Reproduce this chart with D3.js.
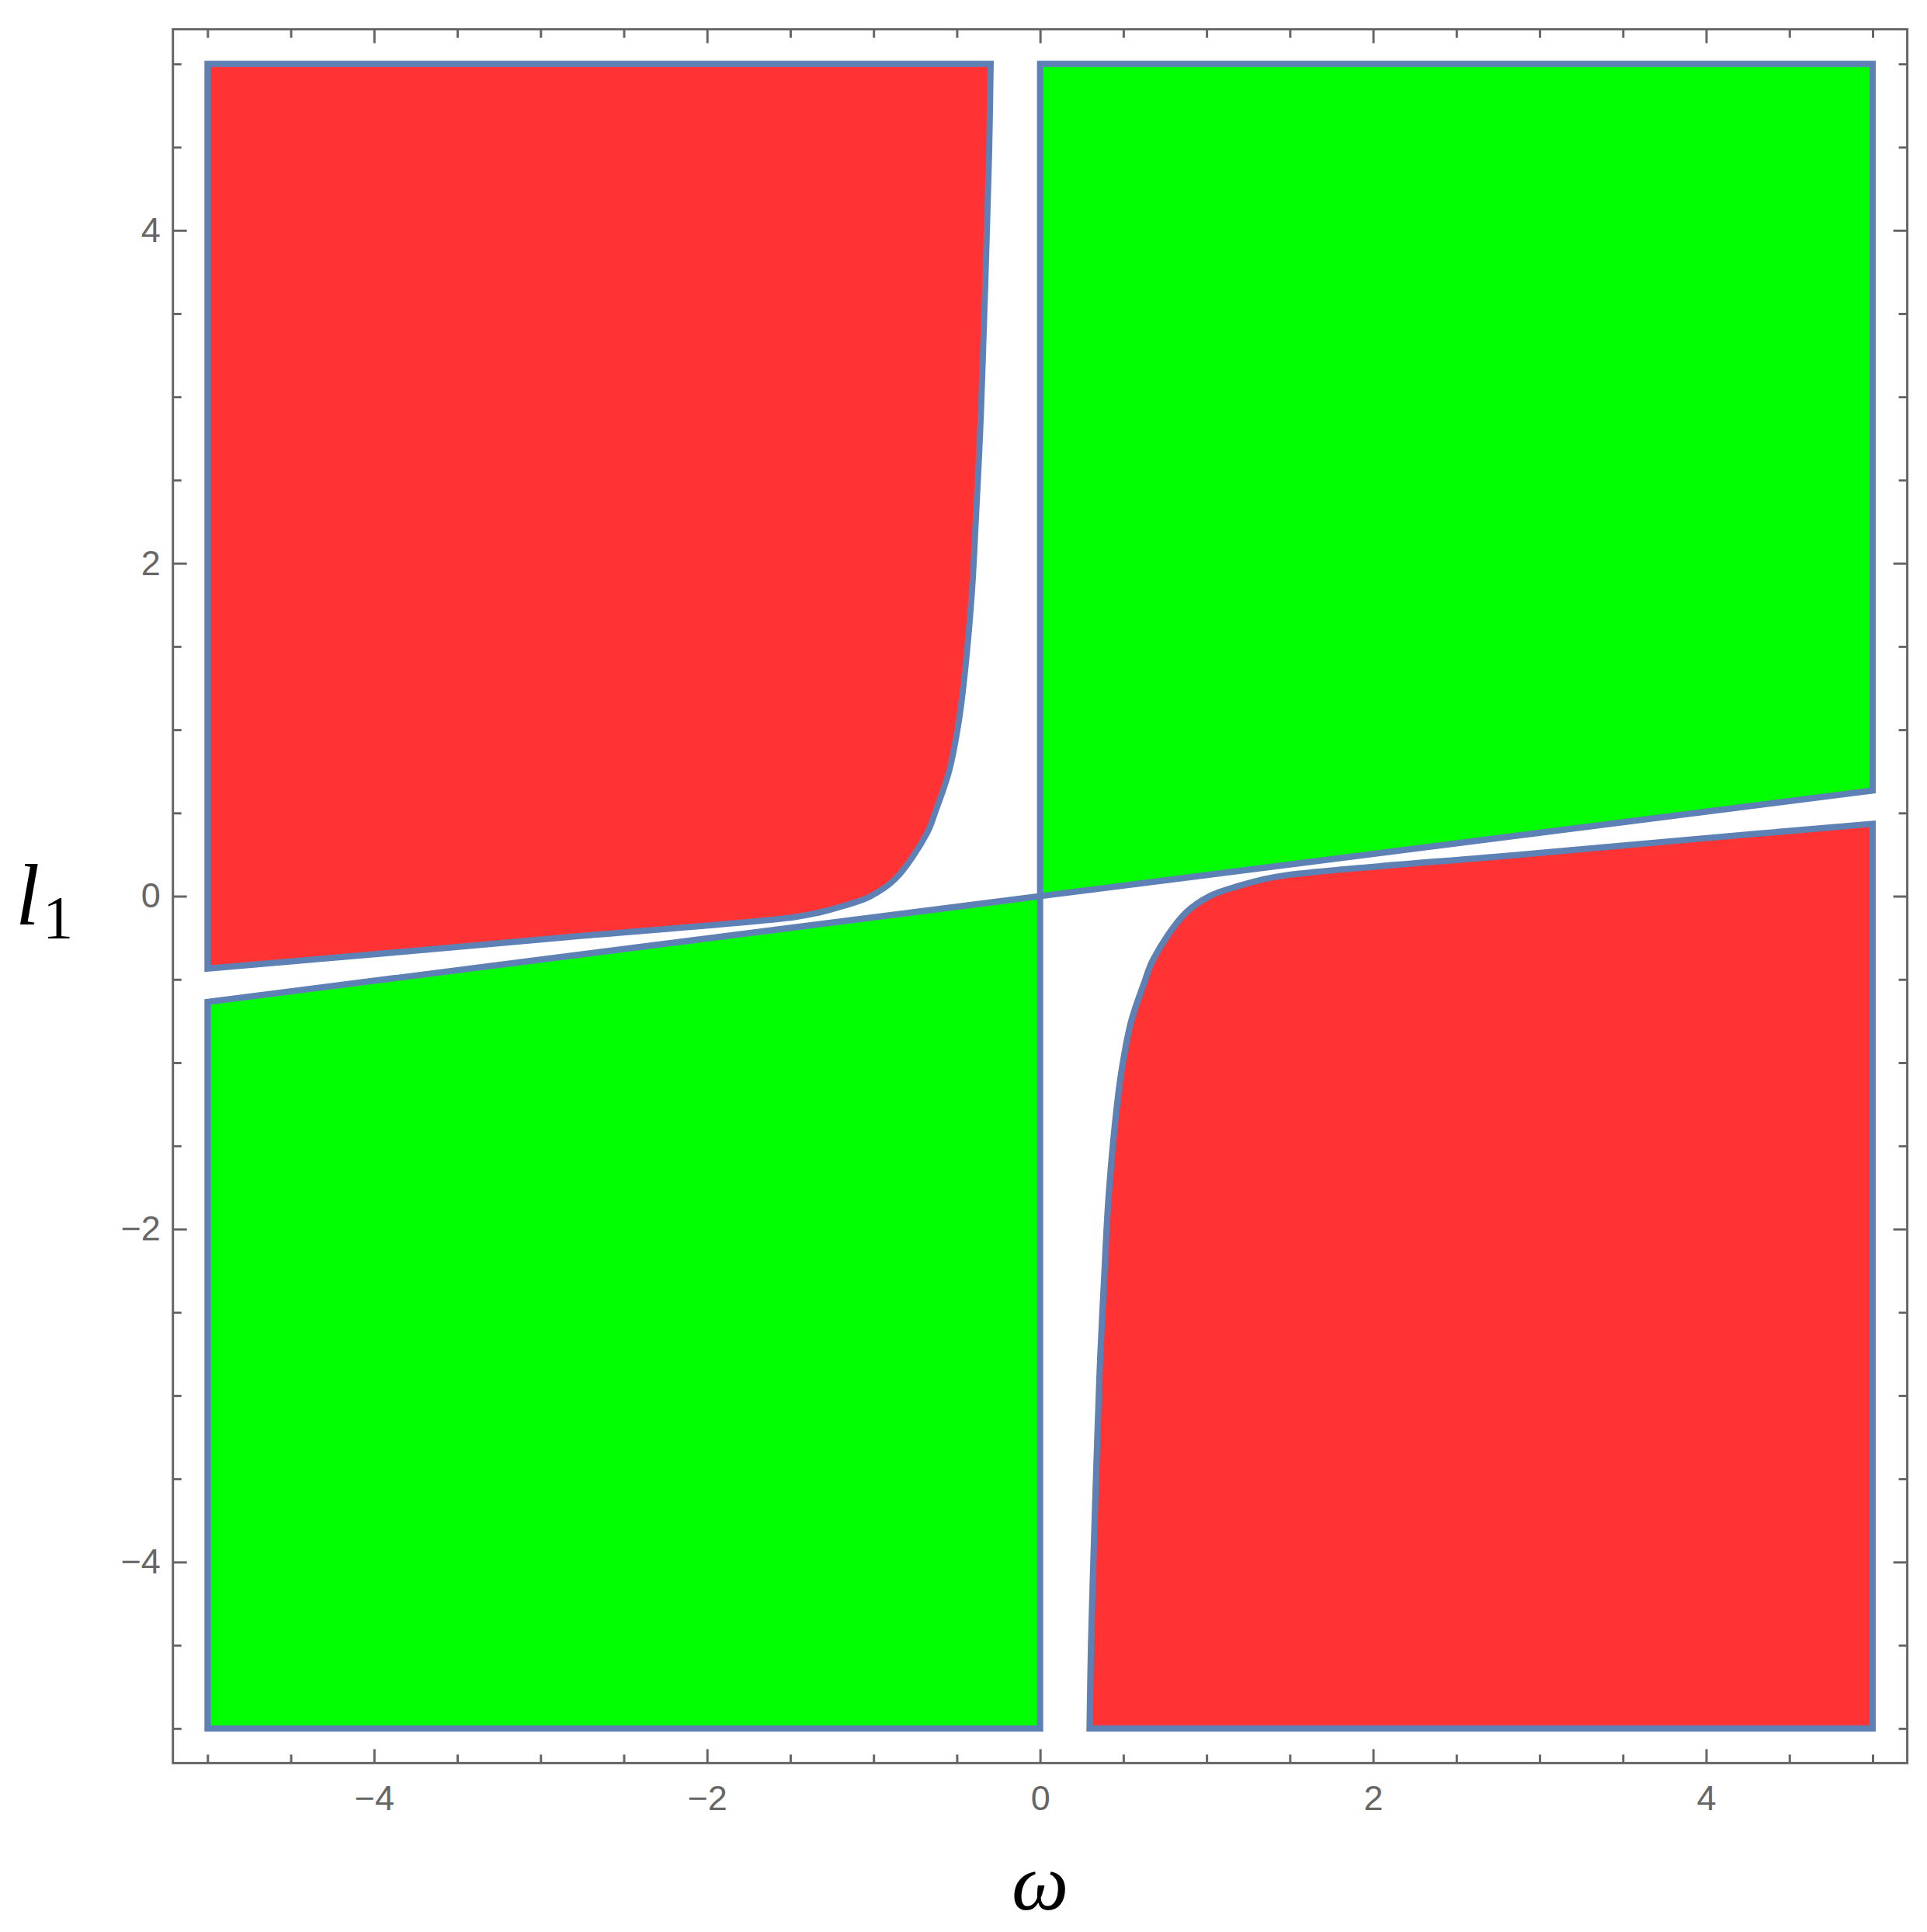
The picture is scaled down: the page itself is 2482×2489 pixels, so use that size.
<!DOCTYPE html>
<html>
<head>
<meta charset="utf-8">
<script src="https://cdn.jsdelivr.net/npm/d3@7"></script>
<style>
body { margin: 0; background: #fff; }
</style>
</head>
<body>
<div id="chart"></div>
<script>
// tick values on both axes
var omegaTicks = [-4, -2, 0, 2, 4];
var l1Ticks = [-4, -2, 0, 2, 4];
var minorTicks = [-5, -4.5, -3.5, -3, -2.5, -1.5, -1, -0.5, 0.5, 1, 1.5, 2.5, 3, 3.5, 4.5, 5];

// region boundaries as [omega, l1]; the last point of each red list is the corner that closes it
var redUpper = [
    [-0.297, 5], [-0.306, 4.48], [-0.324, 3.858], [-0.344, 3.237], [-0.361, 2.771],
    [-0.384, 2.304], [-0.409, 1.838], [-0.449, 1.372], [-0.487, 1.061], [-0.547, 0.751],
    [-0.625, 0.52], [-0.679, 0.38], [-0.869, 0.105], [-1.024, -0.003],
    [-1.18, -0.058], [-1.335, -0.1], [-1.49, -0.128], [-2.889, -0.25], [-3.82, -0.333],
    [-5, -0.435], [-5, 5]
];
var redLower = [
    [0.297, -5], [0.306, -4.48], [0.324, -3.858], [0.344, -3.237], [0.361, -2.771],
    [0.384, -2.304], [0.409, -1.838], [0.449, -1.372], [0.487, -1.061], [0.547, -0.751],
    [0.625, -0.52], [0.679, -0.38], [0.869, -0.105], [1.024, 0.003],
    [1.18, 0.058], [1.335, 0.1], [1.49, 0.128], [2.889, 0.25], [3.82, 0.333],
    [5, 0.435], [5, -5]
];
var greenUpper = [[0, 0], [0, 5], [5, 5], [5, 0.635]];
var greenLower = [[0, 0], [-5, -0.635], [-5, -5], [0, -5]];

var width = 2482,
    height = 2489;

var x = d3.scaleLinear().domain([-5, 5]).range([267.3, 2412]);
var y = d3.scaleLinear().domain([-5, 5]).range([2226.8, 82.3]);

var pad = 44.6;
var frame = {left: x(-5) - pad, right: x(5) + pad, top: y(5) - pad, bottom: y(-5) + pad};

var svg = d3.select('#chart')
    .append('svg')
    .attr('width', width)
    .attr('height', height)
    .style('background', '#fff');

var straight = d3.line()
    .x(function(d) { return x(d[0]); })
    .y(function(d) { return y(d[1]); });

var smooth = d3.line()
    .x(function(d) { return x(d[0]); })
    .y(function(d) { return y(d[1]); })
    .curve(d3.curveCatmullRom.alpha(0.5));

function curvedRegion(pts) {
    var corner = pts[pts.length - 1];
    return smooth(pts.slice(0, -1)) + 'L' + x(corner[0]) + ',' + y(corner[1]) + 'Z';
}

var regions = [
    {d: straight(greenUpper) + 'Z', fill: '#00ff00'},
    {d: straight(greenLower) + 'Z', fill: '#00ff00'},
    {d: curvedRegion(redUpper), fill: '#ff3333'},
    {d: curvedRegion(redLower), fill: '#ff3333'}
];

var plot = svg.append('g');

plot.selectAll('path.fill')
    .data(regions)
    .enter()
    .append('path')
    .attr('class', 'fill')
    .attr('d', function(d) { return d.d; })
    .attr('fill', function(d) { return d.fill; })
    .attr('stroke', 'none');

plot.selectAll('path.edge')
    .data(regions)
    .enter()
    .append('path')
    .attr('class', 'edge')
    .attr('d', function(d) { return d.d; })
    .attr('fill', 'none')
    .attr('stroke', '#5e81b5')
    .attr('stroke-width', 8)
    .attr('stroke-linejoin', 'miter');

// frame
var axisColor = '#666';
svg.append('rect')
    .attr('x', frame.left)
    .attr('y', frame.top)
    .attr('width', frame.right - frame.left)
    .attr('height', frame.bottom - frame.top)
    .attr('fill', 'none')
    .attr('stroke', axisColor)
    .attr('stroke-width', 3);

function styleAxis(g) {
    g.select('.domain').remove();
    g.selectAll('line').attr('stroke', axisColor).attr('stroke-width', 3);
    g.selectAll('text')
        .attr('fill', axisColor)
        .style('font-family', '"Liberation Sans", Arial, sans-serif')
        .style('font-size', '45px');
}

var sides = [
    {axis: d3.axisBottom, scale: x, t: 'translate(0,' + frame.bottom + ')', ticks: omegaTicks, labels: true, pad: 29},
    {axis: d3.axisTop, scale: x, t: 'translate(0,' + frame.top + ')', ticks: omegaTicks, labels: false, pad: 0},
    {axis: d3.axisLeft, scale: y, t: 'translate(' + frame.left + ',0)', ticks: l1Ticks, labels: true, pad: 16},
    {axis: d3.axisRight, scale: y, t: 'translate(' + frame.right + ',0)', ticks: l1Ticks, labels: false, pad: 0}
];

sides.forEach(function(s) {
    var major = s.axis(s.scale)
        .tickValues(s.ticks)
        .tickSize(-18)
        .tickPadding(s.pad);
    if (!s.labels) major.tickFormat('');
    svg.append('g').attr('transform', s.t).call(major).call(styleAxis);

    var minor = s.axis(s.scale)
        .tickValues(minorTicks)
        .tickSize(-11)
        .tickFormat('');
    svg.append('g').attr('transform', s.t).call(minor).call(styleAxis);
});

// axis titles
svg.append('text')
    .attr('x', (frame.left + frame.right) / 2)
    .attr('y', 2460)
    .attr('text-anchor', 'middle')
    .style('font-family', '"Liberation Serif", "Times New Roman", serif')
    .style('font-style', 'italic')
    .style('font-size', '104px')
    .text('ω');

var ylab = svg.append('text')
    .attr('x', 20)
    .attr('y', 1191)
    .style('font-family', '"Liberation Serif", "Times New Roman", serif')
    .style('font-size', '112px');
ylab.append('tspan').style('font-style', 'italic').text('l');
ylab.append('tspan').attr('dx', 4).attr('dy', 17).style('font-size', '78px').text('1');
</script>
</body>
</html>
